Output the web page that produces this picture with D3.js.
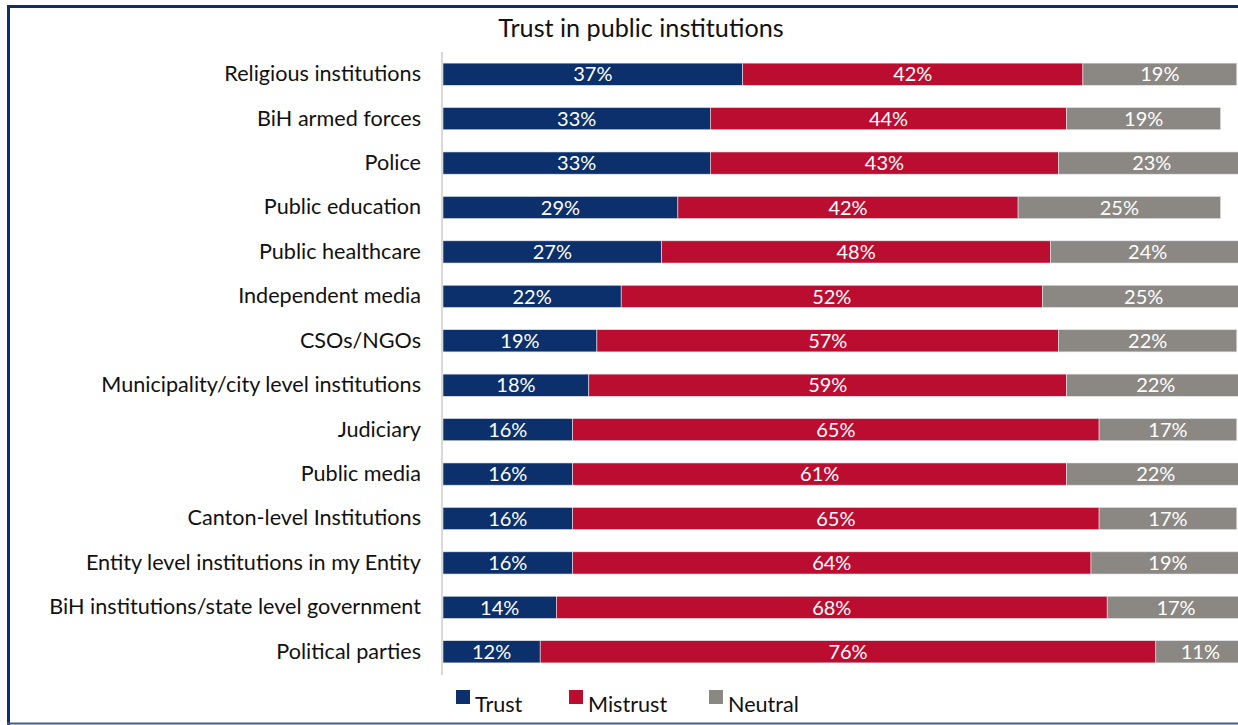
<!DOCTYPE html>
<html>
<head>
<meta charset="utf-8">
<script src="https://cdn.jsdelivr.net/npm/d3@7"></script>
<style>
  html, body { margin: 0; padding: 0; background: #fff; overflow: hidden; }
  svg { display: block; }
  text { font-family: Lato, "Open Sans", sans-serif; }
</style>
</head>
<body>
<svg id="chart" width="1238" height="725"></svg>
<script>
// Survey answers per institution (percent of respondents)
const institutions = [
  "Religious institutions",
  "BiH armed forces",
  "Police",
  "Public education",
  "Public healthcare",
  "Independent media",
  "CSOs/NGOs",
  "Municipality/city level institutions",
  "Judiciary",
  "Public media",
  "Canton-level Institutions",
  "Entity level institutions in my Entity",
  "BiH institutions/state level government",
  "Political parties"
];
const trust    = [37, 33, 33, 29, 27, 22, 19, 18, 16, 16, 16, 16, 14, 12];
const mistrust = [42, 44, 43, 42, 48, 52, 57, 59, 65, 61, 65, 64, 68, 76];
const neutral  = [19, 19, 23, 25, 24, 25, 22, 22, 17, 22, 17, 19, 17, 11];

const seriesNames = ["Trust", "Mistrust", "Neutral"];
const seriesColors = ["#0b306b", "#bb0d30", "#8b8883"];

const rows = institutions.map((name, i) => ({
  name, Trust: trust[i], Mistrust: mistrust[i], Neutral: neutral[i]
}));

const svg = d3.select("#chart");

// Frame around the chart
svg.append("line").attr("x1", 7).attr("x2", 1238).attr("y1", 6.5).attr("y2", 6.5)
  .attr("stroke", "#0b306b").attr("stroke-width", 3);
svg.append("line").attr("x1", 8.5).attr("x2", 8.5).attr("y1", 5).attr("y2", 725)
  .attr("stroke", "#0b306b").attr("stroke-width", 3);
svg.append("line").attr("x1", 7).attr("x2", 1238).attr("y1", 723.5).attr("y2", 723.5)
  .attr("stroke", "#3c5f98").attr("stroke-width", 2);

const x = d3.scaleLinear().domain([0, 100]).range([443, 1253]);
const y = d3.scaleBand().domain(institutions).range([52, 674]).paddingInner(0.5).paddingOuter(0.25);

const stack = d3.stack().keys(seriesNames)(rows);

const g = svg.append("g");
g.selectAll("g.series")
  .data(stack)
  .join("g")
  .attr("class", "series")
  .attr("fill", (d, i) => seriesColors[i])
  .selectAll("rect")
  .data(d => d)
  .join("rect")
  .attr("x", d => x(d[0]))
  .attr("width", d => x(d[1]) - x(d[0]))
  .attr("y", d => y(d.data.name))
  .attr("height", y.bandwidth())
  .attr("stroke", "#e4e6ec")
  .attr("stroke-width", 0.6);

// Value labels inside each segment
g.selectAll("g.labels")
  .data(stack)
  .join("g")
  .attr("class", "labels")
  .selectAll("text")
  .data(d => d.map(v => ({ v, key: d.key })))
  .join("text")
  .attr("x", d => (x(d.v[0]) + x(d.v[1])) / 2)
  .attr("y", d => y(d.v.data.name) + y.bandwidth() / 2)
  .attr("dy", "0.36em")
  .attr("text-anchor", "middle")
  .attr("fill", "#fff")
  .attr("font-size", 20)
  .text(d => d.v.data[d.key] + "%");

// Category axis
const yAxis = d3.axisLeft(y).tickSize(0).tickPadding(21);
const ax = svg.append("g").attr("transform", "translate(442,0)").call(yAxis);
ax.select(".domain").attr("stroke", "#d9d9d9").attr("stroke-width", 2)
  .attr("d", "M0,52V675");
ax.selectAll("text")
  .attr("font-size", 21.6)
  .attr("fill", "#111")
  .style("font-family", "Lato, 'Open Sans', sans-serif");

// Title
svg.append("text")
  .attr("x", 641).attr("y", 37)
  .attr("text-anchor", "middle")
  .attr("font-size", 25.2)
  .attr("fill", "#111")
  .text("Trust in public institutions");

// Legend
const legendX = [456, 569, 709];
const lg = svg.append("g").selectAll("g")
  .data(seriesNames)
  .join("g")
  .attr("transform", (d, i) => `translate(${legendX[i]},697)`);
lg.append("rect").attr("x", 0).attr("y", -7).attr("width", 14).attr("height", 14)
  .attr("fill", (d, i) => seriesColors[i]);
lg.append("text").attr("x", 19).attr("y", 15)
  .attr("font-size", 21.6).attr("fill", "#111").text(d => d);
</script>
</body>
</html>
